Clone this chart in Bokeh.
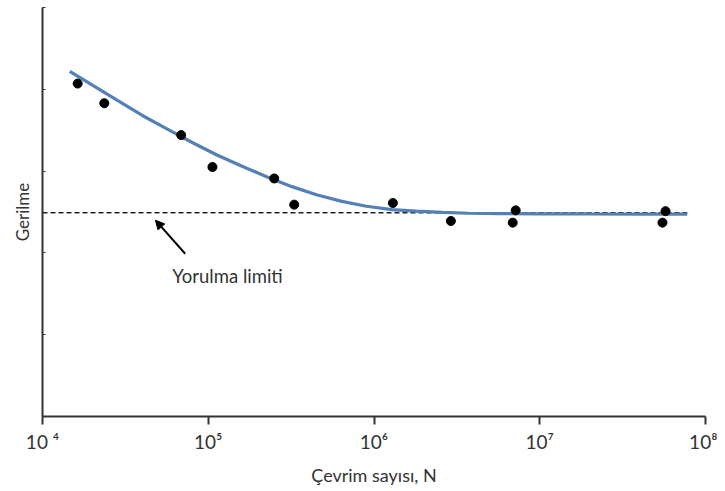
from bokeh.plotting import figure
from bokeh.models import Range1d, FixedTicker, Arrow, NormalHead, Label
from bokeh.embed import file_html
from bokeh.resources import INLINE

# measured data points (cycles N, stress in arbitrary units)
cycles = [1.63e4, 2.36e4, 6.87e4, 1.06e5, 2.50e5, 3.30e5, 1.30e6, 2.91e6, 6.87e6, 7.16e6, 5.50e7, 5.74e7]
stress = [4.07, 3.83, 3.44, 3.05, 2.91, 2.59, 2.61, 2.39, 2.37, 2.52, 2.37, 2.51]

# fitted S-N curve
curve_n = [1.46e4, 2.0e4, 2.8e4, 4.0e4, 5.6e4, 8.0e4, 1.12e5, 1.6e5, 2.25e5, 3.2e5, 4.5e5,
           6.4e5, 9.0e5, 1.28e6, 1.8e6, 2.6e6, 3.7e6, 5.7e6, 1.0e7, 2.0e7, 4.0e7, 7.76e7]
curve_s = [4.22, 4.05, 3.87, 3.68, 3.52, 3.35, 3.20, 3.06, 2.93, 2.81, 2.71,
           2.63, 2.57, 2.53, 2.51, 2.495, 2.485, 2.48, 2.478, 2.476, 2.475, 2.475]

# endurance limit
limit_n = [1.0e4, 7.76e7]
limit_s = [2.49, 2.49]

x_ticks = [1e4, 1e5, 1e6, 1e7, 1e8]
x_tick_labels = ["10 \u2074", "10\u2075", "10\u2076", "10\u2077", "10\u2078"]
y_ticks = [0, 1, 2, 3, 4, 5]

FONT = "Lato"
AX = "#333333"

p = figure(width=717, height=488, x_axis_type="log", output_backend="svg",
           toolbar_location=None, min_border_left=42, min_border_right=12,
           min_border_top=7, min_border_bottom=72)
p.x_range = Range1d(1e4, 1e8)
p.y_range = Range1d(0, 5)
p.outline_line_color = None
p.grid.visible = False
p.background_fill_color = "white"

p.line(limit_n, limit_s, line_color="#222222", line_width=1.5, line_dash="5 3")
p.line(curve_n, curve_s, line_color="#5580b5", line_width=3.2)
p.scatter(cycles, stress, size=9, color="black")

xa = p.xaxis[0]
xa.ticker = FixedTicker(ticks=x_ticks, minor_ticks=[])
xa.major_label_overrides = {t: l for t, l in zip(x_ticks, x_tick_labels)}
xa.axis_line_width = 2
xa.axis_line_color = AX
xa.major_tick_line_width = 2
xa.major_tick_line_color = AX
xa.major_tick_out = 8
xa.major_tick_in = 0
xa.minor_tick_line_color = None
xa.major_label_text_font = FONT
xa.major_label_text_font_size = "19px"
xa.major_label_text_color = AX
xa.major_label_standoff = 5
xa.axis_label = "Çevrim sayısı, N"
xa.axis_label_text_font = FONT
xa.axis_label_text_font_style = "normal"
xa.axis_label_text_font_size = "18px"
xa.axis_label_text_color = AX
xa.axis_label_standoff = 8

ya = p.yaxis[0]
ya.ticker = FixedTicker(ticks=y_ticks, minor_ticks=[])
ya.major_label_text_font_size = "0px"
ya.major_label_text_color = None
ya.axis_line_width = 2
ya.axis_line_color = AX
ya.major_tick_line_color = AX
ya.major_tick_line_width = 1
ya.major_tick_in = 3
ya.major_tick_out = 0
ya.minor_tick_line_color = None
ya.axis_label = "Gerilme"
ya.axis_label_text_font = FONT
ya.axis_label_text_font_style = "normal"
ya.axis_label_text_font_size = "17px"
ya.axis_label_text_color = AX
ya.axis_label_standoff = 10

p.add_layout(Arrow(end=NormalHead(size=9, fill_color="black", line_color="black"),
                   x_start=7.26e4, y_start=1.99, x_end=4.8e4, y_end=2.40,
                   line_width=2, line_color="black"))
p.add_layout(Label(x=6.07e4, y=1.72, text="Yorulma limiti", text_font=FONT,
                   text_font_size="18.5px", text_color=AX, text_baseline="middle"))

open("out.html", "w").write(file_html(p, INLINE))
